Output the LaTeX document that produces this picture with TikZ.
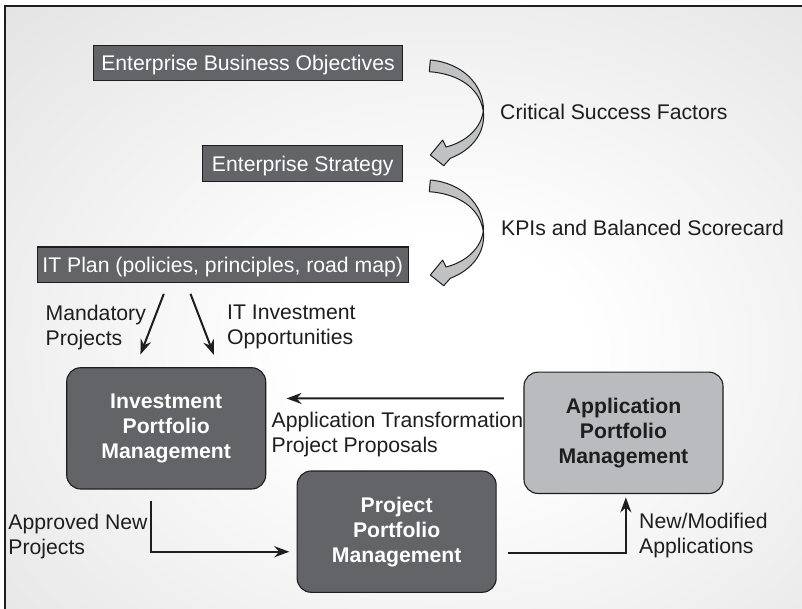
\documentclass[tikz,border=0pt]{standalone}
\usepackage{fontspec}
\setmainfont{Liberation Sans}
\usetikzlibrary{arrows.meta,calc}
\definecolor{boxdark}{RGB}{99,100,104}
\definecolor{boxlight}{RGB}{186,187,190}
\definecolor{arrowfill}{RGB}{192,193,195}
\definecolor{inkc}{RGB}{30,30,30}
\definecolor{bgedge}{gray}{0.83}
\definecolor{bgcorner}{gray}{0.78}
\pgfdeclareradialshading{bgshade}{\pgfpoint{0bp}{0bp}}{color(0bp)=(white); color(8bp)=(white); color(50bp)=(bgedge); color(75bp)=(bgcorner)}
\newcommand\diagfont{\fontsize{21.2}{25}\selectfont}
\tikzset{
  flatbox/.style={draw=inkc, line width=1.1pt, fill=boxdark, text=white, inner sep=0pt,
    text height=15.2pt, text depth=0pt, font=\diagfont},
  roundbox/.style={draw=inkc, line width=1.1pt, rounded corners=14pt, fill=boxdark, text=white,
    inner sep=0pt, align=center, font=\diagfont\bfseries,
    minimum width=199pt, minimum height=121.3pt},
  lbl/.style={anchor=north west, inner sep=0pt, align=left, text=inkc, font=\diagfont},
  conn/.style={draw=inkc, line width=2pt, -{Stealth[length=15pt,width=11pt]}},
  ribbonarrow/.style={fill=arrowfill, draw=inkc, line width=1pt, line join=round}
}
\begin{document}
\begin{tikzpicture}[x=1pt,y=-1pt]
\useasboundingbox (0,0) rectangle (802,609);
% background
\begin{scope}
  \clip (5,6) rectangle (802,609);
  \shade[shading=bgshade] (-10,0) rectangle (890,700);
\end{scope}
\draw[line width=1.5pt, inkc] (5,609) -- (5,6) -- (802,6);

% top boxes
\node[flatbox, minimum width=309.4pt, minimum height=35.4pt] (ebo) at (248,63) {Enterprise Business Objectives};
\node[flatbox, minimum width=200pt, minimum height=36pt] (es) at (302.7,163.7) {Enterprise Strategy};
\node[flatbox, minimum width=370.7pt, minimum height=35.7pt] (itp) at (222.7,264.85) {IT Plan (policies, principles, road map)};

% curved arrows
\foreach \dy in {0,120}{
  \begin{scope}[shift={(0,\dy)}]
    \filldraw[ribbonarrow]
      (430.3,60) .. controls (463,63) and (483,85) .. (483.5,109)
      .. controls (482,128) and (466,142) .. (446,147)
      -- (442.7,140) -- (430.3,155) -- (443.7,165.7) -- (450.3,158.3)
      .. controls (472,150) and (485,133) .. (483.5,113)
      .. controls (481,90) and (461,74) .. (429.3,71.7) -- cycle;
  \end{scope}
}
\node[lbl] (csf) at (500,104) {Critical Success Factors};
\node[lbl] (kpi) at (501,220) {KPIs and Balanced Scorecard};

% portfolio boxes
\node[roundbox] (inv) at (166.2,428.35) {Investment\\Portfolio\\Management};
\node[roundbox] (ppm) at (396.65,531.65) {Project\\Portfolio\\Management};
\node[roundbox, fill=boxlight, text=inkc] (apm) at (623.5,432.8) {Application\\Portfolio\\Management};

% labels
\node[lbl] (mand) at (45.5,305) {Mandatory\\Projects};
\node[lbl] (itinv) at (227,305) {IT Investment\\Opportunities};
\node[lbl] (ata) at (271.5,411.5) {Application Transformation\\Project Proposals};
\node[lbl] (apn) at (8.3,513.5) {Approved New\\Projects};
\node[lbl] (nmod) at (639,513) {New/Modified\\Applications};

% connectors
\draw[conn] ($(itp.south west)+(127,10.6)$) -- ($(inv.north west)+(74.3,-12.7)$);
\draw[conn] ($(itp.south west)+(153.7,10.6)$) -- ($(inv.north west)+(147.8,-12.2)$);
\draw[conn] ($(apm.north west)+(-19.6,26.7)$) -- ($(inv.north east)+(20.3,31.3)$);
\draw[conn] ($(inv.south west)+(85,11)$) |- ($(ppm.north west)+(-7.3,81.3)$);
\draw[conn] ($(ppm.north east)+(11.7,82.3)$) -| ($(apm.south west)+(102.4,3.4)$);
\end{tikzpicture}
\end{document}
